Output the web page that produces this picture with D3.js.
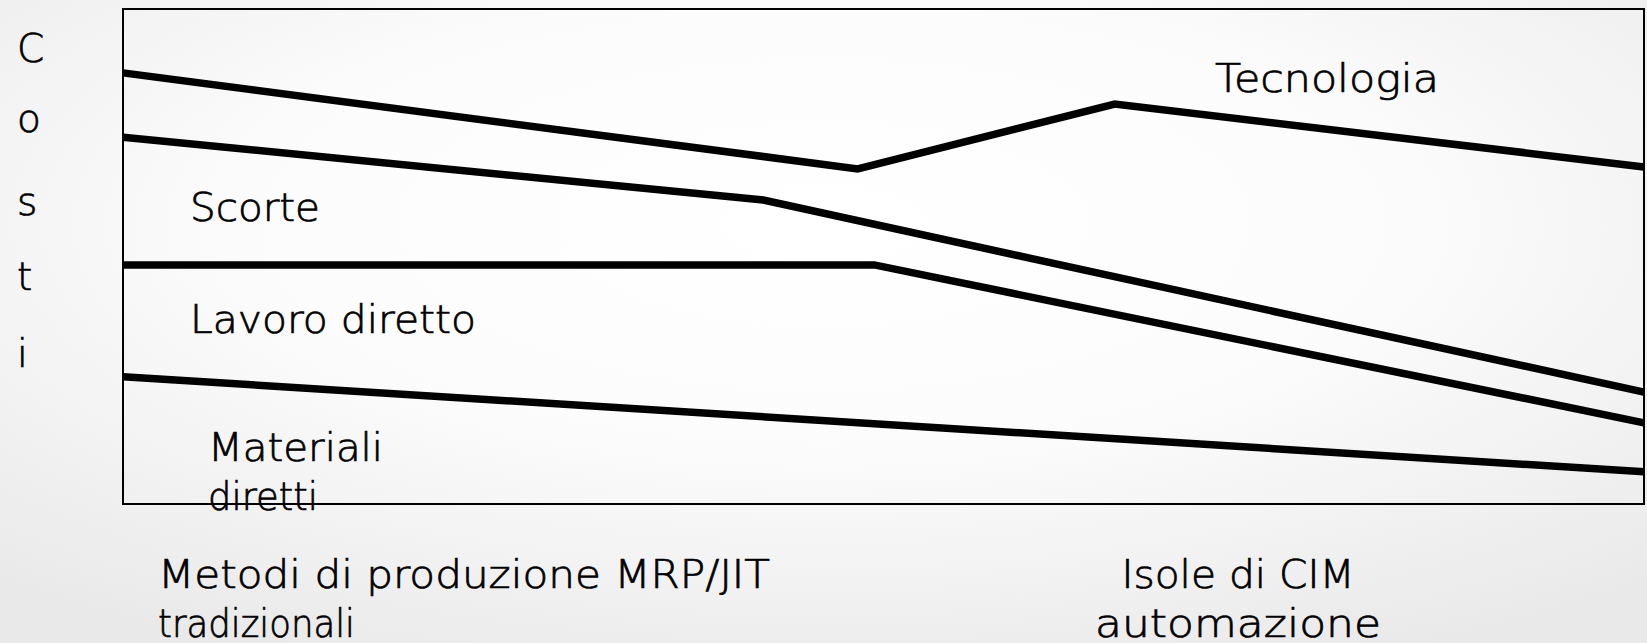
<!DOCTYPE html>
<html>
<head>
<meta charset="utf-8">
<script src="https://cdn.jsdelivr.net/npm/d3@7/dist/d3.min.js"></script>
<style>
  html, body { margin: 0; padding: 0; }
  body { width: 1647px; height: 643px; overflow: hidden; }
  svg text { font-family: "DejaVu Sans", "Open Sans", sans-serif; font-weight: 200; fill: #000; stroke: #000; stroke-width: 0.7px; }
</style>
</head>
<body>
<svg id="chart" width="1647" height="643"></svg>
<script>
// ---- data (x: position along production evolution 0-100, y: cumulative cost 0-100) ----
const tecnologiaX = [0, 48.3, 65.2, 100];
const tecnologiaY = [87.1, 67.7, 80.8, 68.1];
const scorteX = [0, 42.1, 100];
const scorteY = [74.1, 61.4, 22.6];
const lavoroX = [0, 49.4, 100];
const lavoroY = [48.3, 48.3, 16.4];
const materialiX = [0, 100];
const materialiY = [25.7, 6.5];

const seriesLabels = ["Tecnologia", "Scorte", "Lavoro diretto", "Materiali", "diretti"];
const yAxisLetters = ["C", "o", "s", "t", "i"];
const xLabelsLeft = ["Metodi di produzione MRP/JIT", "tradizionali"];
const xLabelsRight = ["Isole di CIM", "automazione"];

// ---- layout ----
const W = 1647, H = 643;
const plot = { left: 123, right: 1644, top: 9, bottom: 504 };
const fontSize = 39;

const svg = d3.select("#chart");
const defs = svg.append("defs");
const grad = defs.append("radialGradient")
  .attr("id", "bg").attr("cx", "50%").attr("cy", "35%").attr("r", "75%");
grad.append("stop").attr("offset", "0%").attr("stop-color", "#ffffff");
grad.append("stop").attr("offset", "45%").attr("stop-color", "#fcfcfc");
grad.append("stop").attr("offset", "100%").attr("stop-color", "#e9e9e9");
svg.append("rect").attr("width", W).attr("height", H).attr("fill", "url(#bg)");

const x = d3.scaleLinear().domain([0, 100]).range([plot.left, plot.right]);
const y = d3.scaleLinear().domain([0, 100]).range([plot.bottom, plot.top]);

// plot frame
svg.append("rect")
  .attr("x", x(0)).attr("y", y(100))
  .attr("width", x(100) - x(0)).attr("height", y(0) - y(100))
  .attr("fill", "none").attr("stroke", "#000").attr("stroke-width", 2);

const series = [
  [tecnologiaX, tecnologiaY],
  [scorteX, scorteY],
  [lavoroX, lavoroY],
  [materialiX, materialiY]
];
const line = d3.line().x(d => x(d[0])).y(d => y(d[1]));
series.forEach(([xs, ys]) => {
  const pts = xs.map((v, i) => [v, ys[i]]);
  svg.append("path")
    .attr("d", line(pts))
    .attr("fill", "none")
    .attr("stroke", "#000")
    .attr("stroke-width", 7.5)
    .attr("stroke-linejoin", "miter");
});

// series labels
const labelPos = [
  { x: 1215, y: 92, w: 224 },
  { x: 190, y: 221, w: 130 },
  { x: 190, y: 333, w: 286 },
  { x: 208, y: 461, w: 175 },
  { x: 208, y: 510, w: 110 }
];
svg.selectAll("text.series").data(seriesLabels).join("text")
  .attr("class", "series")
  .attr("x", (d, i) => labelPos[i].x)
  .attr("y", (d, i) => labelPos[i].y)
  .attr("font-size", fontSize)
  .attr("textLength", (d, i) => labelPos[i].w)
  .attr("lengthAdjust", "spacingAndGlyphs")
  .text(d => d);

// vertical "Costi"
const letterY = [62, 132, 215, 290, 367];
svg.selectAll("text.costi").data(yAxisLetters).join("text")
  .attr("class", "costi")
  .attr("x", 17)
  .attr("y", (d, i) => letterY[i])
  .attr("font-size", fontSize)
  .text(d => d);

// x labels
const leftW = [612, 197];
svg.selectAll("text.xl").data(xLabelsLeft).join("text")
  .attr("class", "xl")
  .attr("x", 158)
  .attr("y", (d, i) => 588 + i * 49)
  .attr("font-size", fontSize)
  .attr("textLength", (d, i) => leftW[i])
  .attr("lengthAdjust", "spacingAndGlyphs")
  .text(d => d);
const rightW = [233, 286];
svg.selectAll("text.xr").data(xLabelsRight).join("text")
  .attr("class", "xr")
  .attr("x", (d, i) => 1238 - rightW[i] / 2)
  .attr("y", (d, i) => 588 + i * 49)
  .attr("font-size", fontSize)
  .attr("textLength", (d, i) => rightW[i])
  .attr("lengthAdjust", "spacingAndGlyphs")
  .text(d => d);
</script>
</body>
</html>
